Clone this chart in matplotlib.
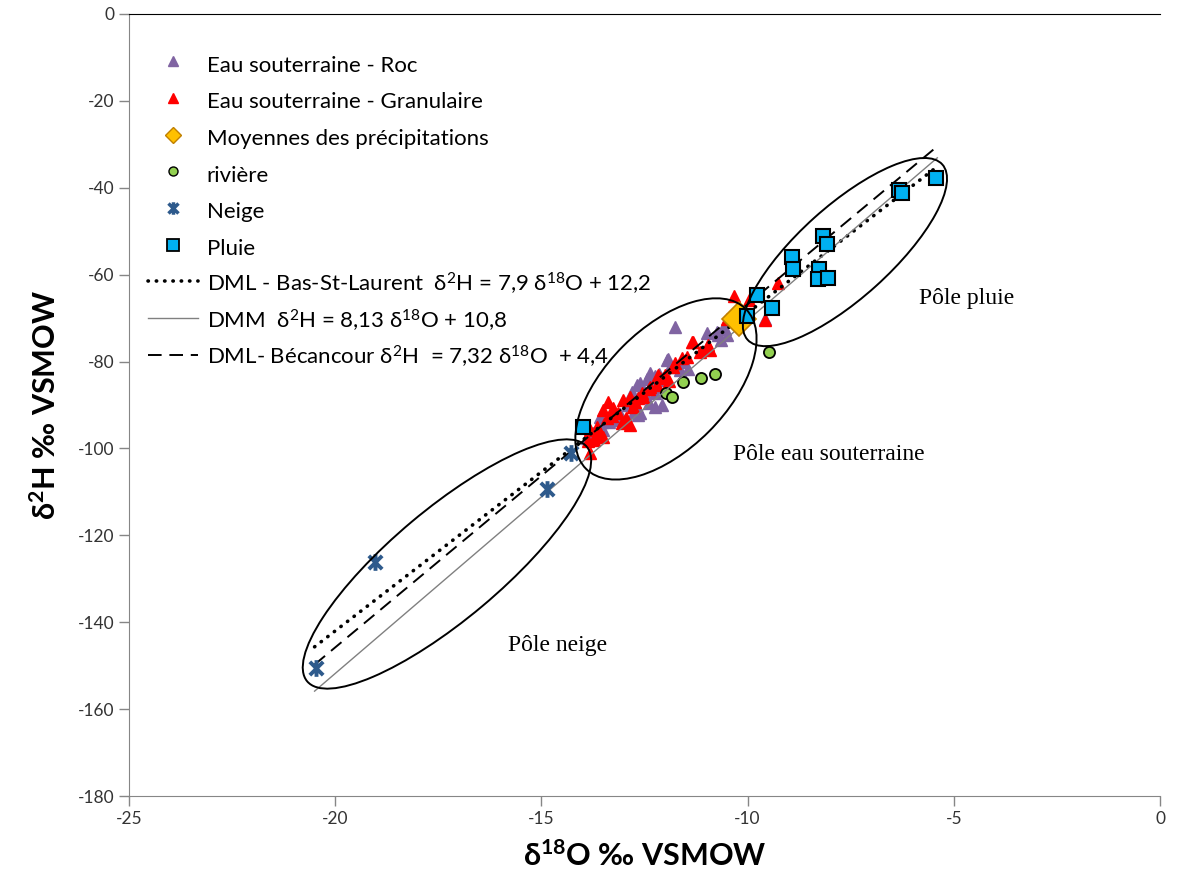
import matplotlib
matplotlib.use("Agg")
import matplotlib.pyplot as plt
import matplotlib.transforms as mtransforms
from matplotlib.patches import Ellipse
from matplotlib.lines import Line2D
from matplotlib.path import Path
import numpy as np

plt.rcParams['font.family'] = ['Lato', 'Noto Sans', 'DejaVu Sans']
plt.rcParams['mathtext.fontset'] = 'custom'
plt.rcParams['mathtext.rm'] = 'Lato'
plt.rcParams['mathtext.it'] = 'Lato:italic'
plt.rcParams['mathtext.bf'] = 'Lato:bold'
plt.rcParams['axes.unicode_minus'] = False

# Eau souterraine - Roc (purple triangles)
roc_x = [-11.76, -10.99, -10.75, -10.55, -10.51, -10.65, -10.72, -10.60, -9.58,
         -11.92, -11.96, -11.88, -11.64, -11.44, -11.55,
         -12.37, -12.25, -12.15, -12.05, -12.30, -12.45, -12.20, -12.04,
         -12.69, -12.57, -12.50, -12.80, -12.62, -12.61, -12.25, -12.08,
         -12.25, -12.40, -12.65, -12.75, -12.90, -12.69,
         -13.58, -13.54, -13.50, -13.35, -13.20, -13.10, -13.75, -13.90]
roc_y = [-72.0, -73.5, -73.1, -72.4, -73.9, -75.0, -73.9, -72.3, -70.2,
         -79.3, -79.6, -81.2, -82.0, -81.6, -80.0,
         -82.6, -83.3, -82.8, -84.2, -84.5, -84.0, -85.9, -83.9,
         -85.4, -86.6, -87.5, -87.0, -85.0, -91.9, -87.3, -90.0,
         -90.4, -89.5, -92.3, -91.5, -90.0, -90.4,
         -92.7, -93.9, -95.8, -94.0, -93.5, -92.0, -96.5, -97.5]

# Eau souterraine - Granulaire (red triangles)
gran_x = [-10.33, -9.26, -9.58, -10.51, -9.97, -11.32, -10.99,
          -11.36, -10.95, -10.91, -11.15, -11.48, -11.76, -11.60, -11.80,
          -12.12, -12.20, -12.00, -11.90, -12.17, -12.37, -12.53, -12.73,
          -12.85, -13.01, -12.65, -12.77, -12.55, -12.40,
          -13.38, -13.26, -13.50, -13.15, -13.30, -12.95, -13.05, -13.40, -12.85,
          -13.66, -13.82, -13.70, -13.86, -13.72, -13.50, -13.60, -13.82]
gran_y = [-64.9, -61.9, -70.4, -70.1, -65.8, -75.4, -76.6,
          -75.4, -76.2, -77.3, -77.7, -78.9, -80.4, -79.2, -81.2,
          -83.9, -85.4, -83.0, -84.5, -83.1, -85.8, -88.1, -89.2,
          -88.1, -88.9, -88.5, -90.4, -87.2, -86.4,
          -89.3, -90.8, -91.2, -91.8, -92.6, -93.0, -94.2, -93.0, -94.5,
          -95.0, -95.8, -97.3, -98.4, -98.1, -97.4, -96.0, -101.1]

# Moyennes des précipitations
moy_x = [-10.2]
moy_y = [-70.3]

# rivière
riv_x = [-11.56, -11.13, -10.78, -11.98, -11.83, -9.47]
riv_y = [-84.8, -83.9, -82.9, -87.3, -88.1, -77.9]

# Neige
neige_x = [-20.47, -19.03, -14.86, -14.28]
neige_y = [-150.6, -126.2, -109.3, -101.1]

# Pluie
pluie_x = [-5.42, -6.32, -6.26, -8.18, -8.08, -8.92, -8.89, -8.26, -8.29,
           -8.04, -9.78, -9.42, -10.01, -13.99]
pluie_y = [-37.8, -40.5, -41.2, -51.1, -52.9, -56.0, -58.8, -58.7, -61.0,
           -60.7, -64.7, -67.6, -69.4, -95.1]

# droites (pente, ordonnee) et etendue en x
line_range = [-20.5, -5.4]
dml_bsl = (7.32, 4.4)     # drawn dotted
dmm = (8.13, 10.8)
dml_bec = (7.9, 12.2)     # drawn dashed

labels = ['Eau souterraine - Roc', 'Eau souterraine - Granulaire',
          'Moyennes des précipitations', 'rivière', 'Neige', 'Pluie',
          'DML - Bas-St-Laurent  δ$^{2}$H = 7,9 δ$^{18}$O + 12,2',
          'DMM  δ$^{2}$H = 8,13 δ$^{18}$O + 10,8',
          'DML- Bécancour δ$^{2}$H  = 7,32 δ$^{18}$O  + 4,4']

# marker: X with a vertical bar
star = Path([(-1, -1), (1, 1), (-1, 1), (1, -1), (0, -1.25), (0, 1.25)],
            [Path.MOVETO, Path.LINETO, Path.MOVETO, Path.LINETO, Path.MOVETO, Path.LINETO])

fig = plt.figure(figsize=(11.77, 8.73), dpi=100)
ax = fig.add_axes([129/1177, 1-796/873, 1031/1177, 782/873])

lx = np.array(line_range)
ax.plot(lx, dml_bsl[0]*lx + dml_bsl[1], color='black', lw=2.6,
        linestyle=(0, (0.1, 2.2)), dash_capstyle='round', zorder=4)
ax.plot(lx, dmm[0]*lx + dmm[1], color='#808080', lw=1.0, zorder=4)
ax.plot(lx, dml_bec[0]*lx + dml_bec[1], color='black', lw=1.4,
        linestyle=(0, (7, 4)), zorder=4)

ax.plot(roc_x, roc_y, '^', color='#8064A2', mec='#8064A2', ms=9, zorder=3)
ax.plot(gran_x, gran_y, '^', color='#FF0000', mec='#FF0000', ms=9, zorder=3)
ax.plot(moy_x, moy_y, 'D', color='#FFC000', mec='#C08000', ms=17, mew=1.2, zorder=5)
ax.plot(riv_x, riv_y, 'o', color='#92D050', mec='black', ms=8, mew=1.3, zorder=3)
ax.plot(neige_x, neige_y, marker=star, color='#2E5A8C', mec='#2E5A8C',
        ms=12, mew=2.8, linestyle='none', zorder=5)
ax.plot(pluie_x, pluie_y, 's', color='#00B0F0', mec='black', ms=10, mew=1.5, zorder=5)

# ellipses des poles (largeur/hauteur en pixels, angle a l'ecran)
def pole(cx, cy, w, h, ang):
    tr = fig.dpi_scale_trans + mtransforms.ScaledTranslation(cx, cy, ax.transData)
    ax.add_patch(Ellipse((0, 0), w/100, h/100, angle=ang, transform=tr,
                         fill=False, ec='black', lw=1.4, zorder=6))

pole(-7.64, -54.8, 262, 92, 42)
pole(-11.98, -86.3, 226, 121, 45)
pole(-17.29, -126.6, 365, 110, 40)

ax.text(-4.68, -65.4, 'Pôle pluie', family='Liberation Serif', fontsize=17,
        ha='center', va='center')
ax.text(-8.03, -101.5, 'Pôle eau souterraine', family='Liberation Serif', fontsize=17,
        ha='center', va='center')
ax.text(-14.6, -145.3, 'Pôle neige', family='Liberation Serif', fontsize=17,
        ha='center', va='center')

# legend proxies (smaller markers than on the plot)
handles = [
    Line2D([], [], ls='none', marker='^', color='#8064A2', ms=7),
    Line2D([], [], ls='none', marker='^', color='#FF0000', ms=7),
    Line2D([], [], ls='none', marker='D', color='#FFC000', mec='#C08000', ms=8.5, mew=1),
    Line2D([], [], ls='none', marker='o', color='#92D050', mec='black', ms=6.5, mew=1),
    Line2D([], [], ls='none', marker=star, color='#2E5A8C', ms=9, mew=2.5),
    Line2D([], [], ls='none', marker='s', color='#00B0F0', mec='black', ms=8, mew=1.3),
    Line2D([], [], color='black', lw=2.6, ls=(0, (0.1, 2.2)), dash_capstyle='round'),
    Line2D([], [], color='#808080', lw=1.0),
    Line2D([], [], color='black', lw=1.4, ls=(0, (7, 4))),
]
ax.legend(handles, labels, loc='upper left', bbox_to_anchor=(0.0184, 0.953),
          frameon=False, fontsize=16, borderpad=0, borderaxespad=0,
          handlelength=2.25, handleheight=1.5, handletextpad=0.4, labelspacing=0.43)

ax.set_xlim(-25, 0)
ax.set_ylim(-180, 0)
ax.set_xticks(np.arange(-25, 1, 5))
ax.set_yticks(np.arange(-180, 1, 20))
ax.tick_params(direction='out', length=7, width=1, color='#868686',
               labelsize=12.5, labelcolor='#333333')
for s in ['left', 'bottom']:
    ax.spines[s].set_color('#868686')
ax.spines['right'].set_visible(False)
ax.spines['top'].set_color('black')

ax.set_xlabel('δ$^{\\mathbf{18}}$O ‰ VSMOW', fontsize=22, fontweight='bold', labelpad=10)
ax.set_ylabel('δ$^{\\mathbf{2}}$H ‰ VSMOW', fontsize=22, fontweight='bold', labelpad=12)

fig.savefig('out.png', dpi=100)
